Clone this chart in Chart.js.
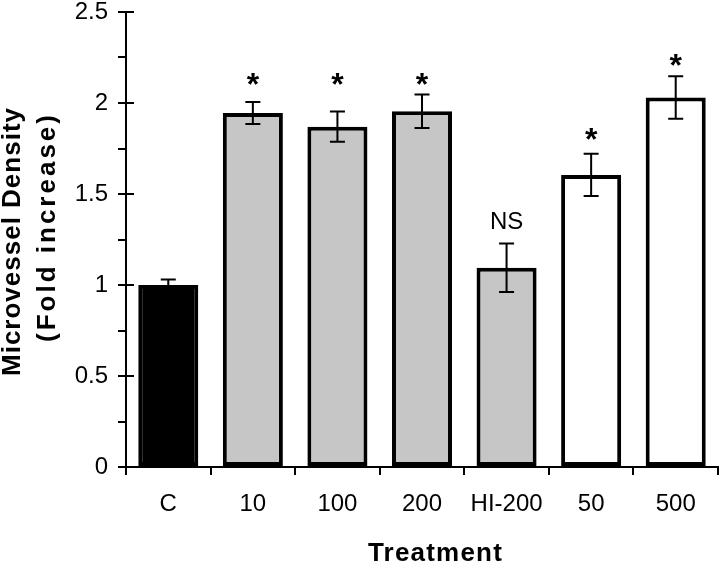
<!DOCTYPE html>
<html>
<head>
<meta charset="utf-8">
<script src="https://cdn.jsdelivr.net/npm/chart.js@4.4.1/dist/chart.umd.min.js"></script>
<style>
body { margin: 0; background: #fff; }
</style>
</head>
<body>
<canvas id="mvdChart" width="720" height="563"></canvas>
<script>
var treatments = ['C', '10', '100', '200', 'HI-200', '50', '500'];
var densityMeans = [1.0, 1.945, 1.87, 1.955, 1.095, 1.605, 2.03];
var densityErrors = [0.03, 0.06, 0.083, 0.092, 0.133, 0.116, 0.117];
var barFills = ['#000000', '#c6c6c6', '#c6c6c6', '#c6c6c6', '#c6c6c6', '#ffffff', '#ffffff'];
var sigLabels = ['', '*', '*', '*', 'NS', '*', '*'];
var sigLevels = [null, 2.143, 2.143, 2.143, 1.357, 1.842, 2.247];
var yMajorTicks = [0, 0.5, 1, 1.5, 2, 2.5];
var yMinorTicks = [0.25, 0.75, 1.25, 1.75, 2.25];

var FONT = "'Liberation Sans', Arial, sans-serif";

// error bars, significance marks, axis titles and the inner half of the major ticks
var extrasPlugin = {
	id: 'extras',
	afterDatasetsDraw: function(chart) {
		var ctx = chart.ctx,
		y = chart.scales.y,
		meta = chart.getDatasetMeta(0);

		ctx.save();
		ctx.strokeStyle = '#000';
		ctx.fillStyle = '#000';
		ctx.lineWidth = 2;
		meta.data.forEach(function(bar, i) {
			var top = y.getPixelForValue(densityMeans[i] + densityErrors[i]),
			bot = y.getPixelForValue(densityMeans[i] - densityErrors[i]);
			ctx.beginPath();
			ctx.moveTo(bar.x, top); ctx.lineTo(bar.x, bot);
			ctx.moveTo(bar.x - 7.5, top); ctx.lineTo(bar.x + 7.5, top);
			ctx.moveTo(bar.x - 7.5, bot); ctx.lineTo(bar.x + 7.5, bot);
			ctx.stroke();

			if (sigLabels[i]) {
				var star = sigLabels[i] == '*',
				size = star ? 32 : 24;
				ctx.font = (star ? 'bold ' : '') + size + 'px ' + FONT;
				ctx.textAlign = 'center';
				ctx.textBaseline = 'alphabetic';
				ctx.fillText(sigLabels[i], bar.x, y.getPixelForValue(sigLevels[i]) + (star ? 0.575 : 0.358) * size);
			}
		});
		ctx.restore();
	},
	afterDraw: function(chart) {
		var ctx = chart.ctx,
		y = chart.scales.y,
		left = chart.chartArea.left;

		ctx.save();
		ctx.strokeStyle = '#000';
		ctx.lineWidth = 2;
		ctx.beginPath();
		yMajorTicks.forEach(function(v) {
			var py = Math.round(y.getPixelForValue(v));
			ctx.moveTo(left, py);
			ctx.lineTo(left + 8, py);
		});
		ctx.stroke();

		ctx.fillStyle = '#000';
		ctx.textAlign = 'center';
		ctx.textBaseline = 'alphabetic';
		ctx.font = 'bold 26px ' + FONT;
		ctx.letterSpacing = '1.2px';
		ctx.fillText('Treatment', 435.5, 560.5);

		ctx.translate(20, 241.5);
		ctx.rotate(-Math.PI / 2);
		ctx.letterSpacing = '1px';
		ctx.fillText('Microvessel Density', 0, 0);
		ctx.letterSpacing = '3px';
		ctx.fillText('(Fold increase)', 14.5, 34.5);
		ctx.restore();
	}
};

var mvdCtx = document.getElementById('mvdChart').getContext('2d');
var chart = new Chart(mvdCtx, {
	type: 'bar',
	data: {
		labels: treatments,
		datasets: [{
			data: densityMeans,
			backgroundColor: barFills,
			borderColor: '#000',
			borderWidth: 4,
			borderSkipped: false,
			barPercentage: 0.71,
			categoryPercentage: 1
		}]
	},
	options: {
		responsive: false,
		animation: false,
		layout: { padding: { left: 0, right: 2, top: 12, bottom: 0 } },
		plugins: {
			legend: { display: false },
			tooltip: { enabled: false }
		},
		scales: {
			x: {
				grid: { offset: true, drawOnChartArea: false, color: '#000', lineWidth: 2, tickLength: 8 },
				border: { color: '#000', width: 2 },
				ticks: { color: '#000', font: { family: FONT, size: 24 }, padding: 15, maxRotation: 0, autoSkip: false },
				afterFit: function(s) { s.height = 96; s.paddingLeft = 0; s.paddingRight = 0; }
			},
			y: {
				min: 0,
				max: 2.5,
				afterBuildTicks: function(s) {
					s.ticks = yMajorTicks.concat(yMinorTicks).sort(function(a, b) { return a - b; }).map(function(v) { return { value: v }; });
				},
				grid: { drawOnChartArea: false, color: '#000', lineWidth: 2, tickLength: 8 },
				border: { color: '#000', width: 2 },
				ticks: {
					color: '#000',
					font: { family: FONT, size: 24 },
					padding: 10,
					callback: function(v) { return yMajorTicks.indexOf(v) >= 0 ? String(v) : ''; }
				},
				afterFit: function(s) { s.width = 126; s.paddingTop = 0; s.paddingBottom = 0; }
			}
		}
	},
	plugins: [extrasPlugin]
});
</script>
</body>
</html>
